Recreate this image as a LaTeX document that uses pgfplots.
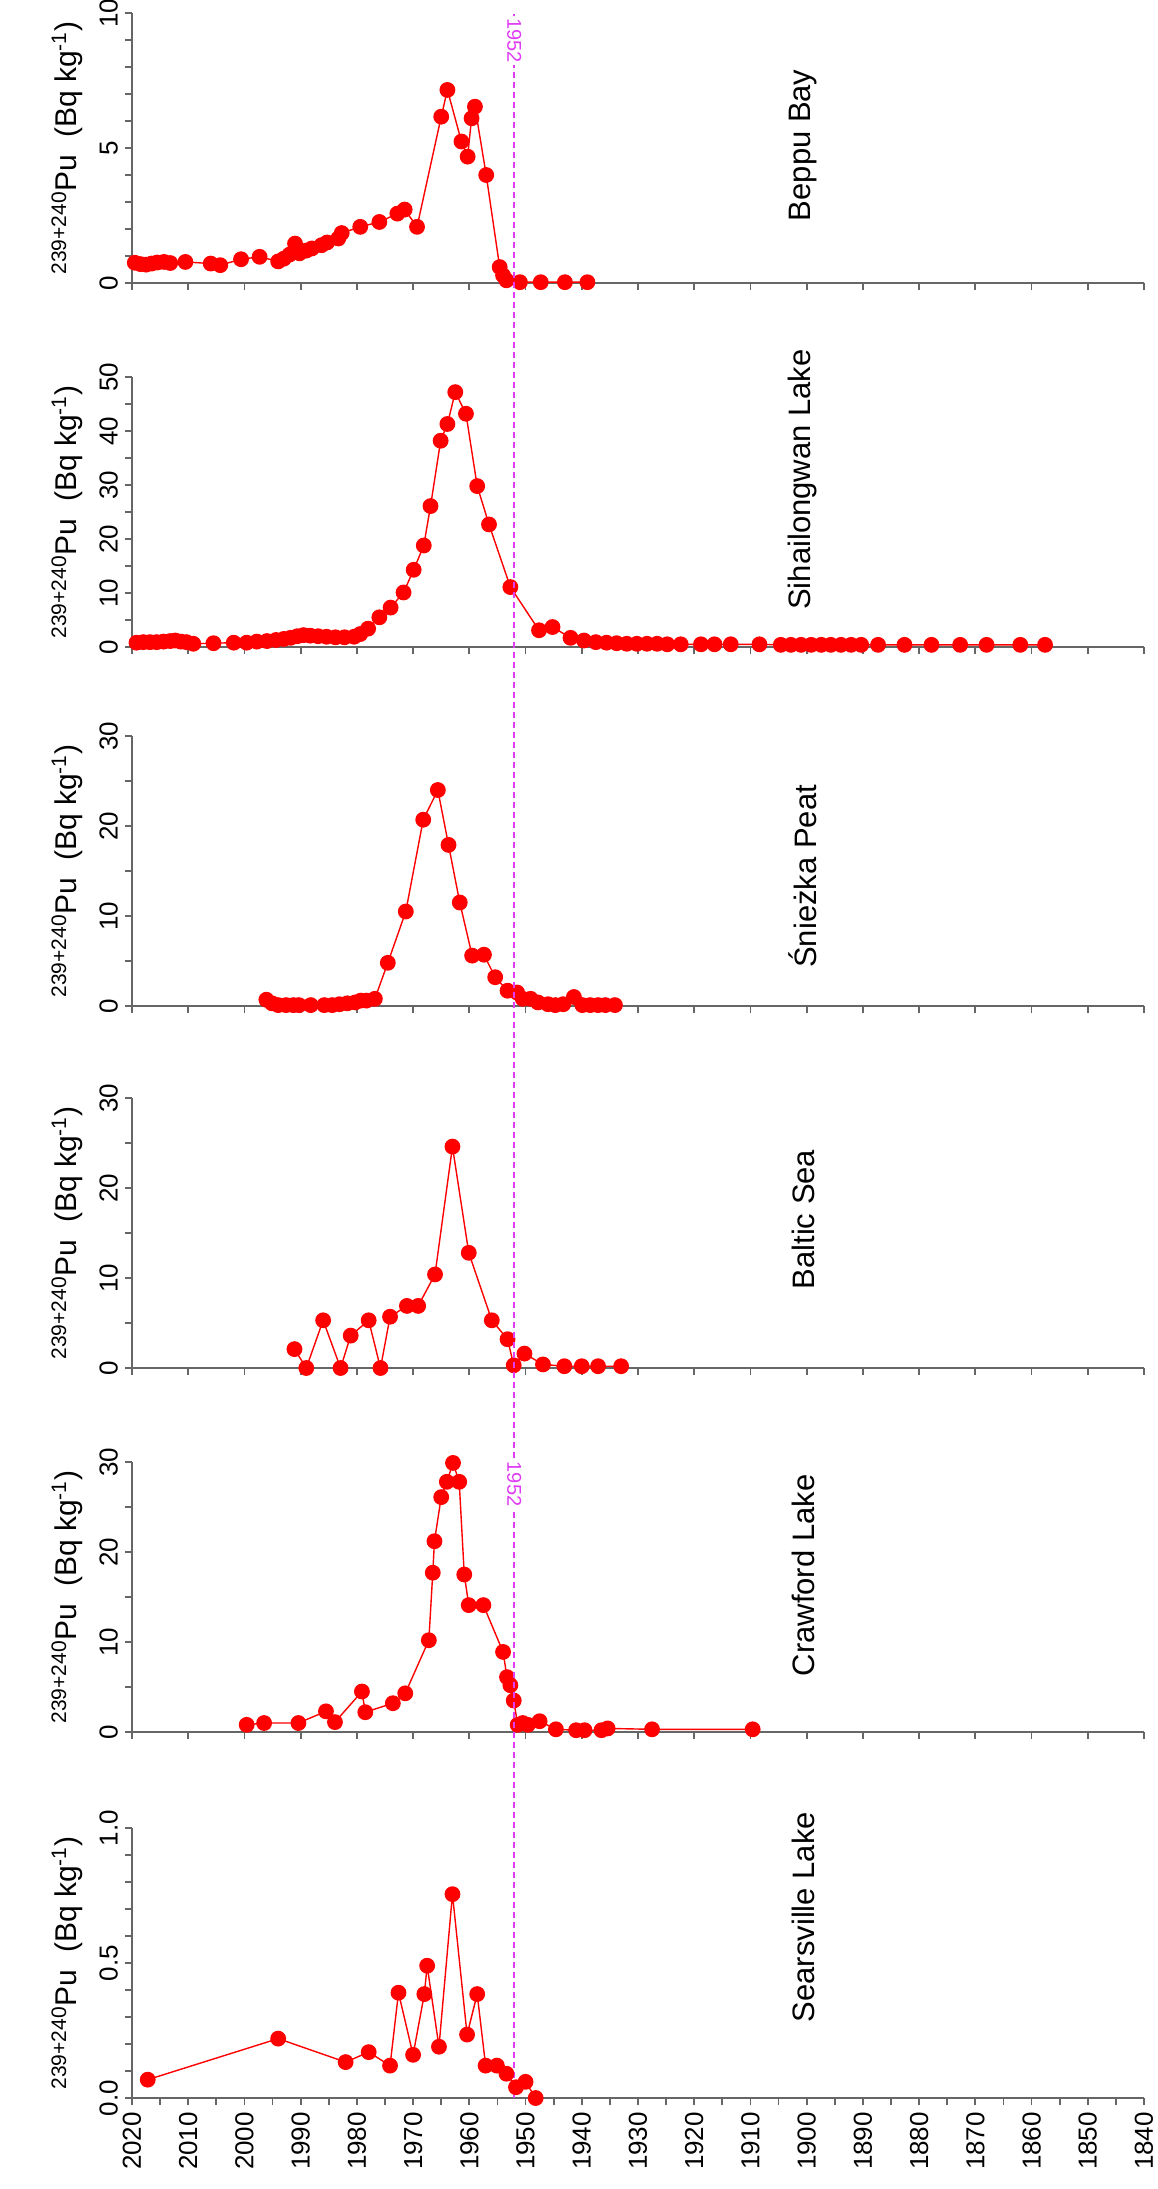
\documentclass[border=0pt]{standalone}
\usepackage{fontspec}
\setmainfont{Liberation Sans}
\usepackage{pgfplots}
\pgfplotsset{compat=1.18}
\definecolor{pured}{RGB}{255,0,0}
\definecolor{mag}{RGB}{225,60,245}
\tikzset{site/.style={rotate=90, font=\fontsize{15.5}{15.5}\selectfont},
 yr/.style={rotate=-90, text=mag, fill=white, inner sep=1pt, font=\fontsize{10}{10}\selectfont}}
\pgfplotsset{
 panel/.style={
  width=506pt, height=135pt, scale only axis,
  x dir=reverse, xmin=1840, xmax=2020, ymin=0,
  axis x line=bottom, axis y line=left,
  axis line style={-, black!60, line width=0.9pt},
  every tick/.style={black!60, line width=0.9pt},
  tick align=outside, major tick length=3.5pt, minor tick length=3.5pt,
  xtick={1840,1850,...,2020},
  clip=false, enlargelimits=false,
  /pgf/number format/assume math mode=true,
  /pgf/number format/1000 sep={},
  tick label style={font=\fontsize{13}{13}\selectfont},
  yticklabel style={rotate=90, anchor=south},
  ylabel={\textsuperscript{239+240}Pu\ \ (Bq kg\textsuperscript{-1})},
  ylabel style={at={(axis description cs:-0.0642,0.5)}, anchor=center, font=\fontsize{15}{15}\selectfont},
 },
 hidex/.style={xticklabels={}},
 ser/.style={color=pured, line width=0.7pt, mark=*, mark size=3.6pt, mark options={fill=pured, draw=pured}},
}
\begin{document}
\begin{tikzpicture}
\useasboundingbox (0,0) rectangle (578.5pt,-1094.5pt);
% Beppu Bay
\begin{axis}[panel, hidex, at={(66pt,-141.5pt)}, anchor=south west, ymax=10,
  ytick={0,5,10}, minor ytick={1,2,3,4,6,7,8,9}]
\addplot[ser] table {
2019.5 0.75
2018.5 0.70
2017.5 0.68
2016.5 0.72
2015.5 0.76
2014.3 0.78
2013.2 0.74
2010.5 0.78
2006.0 0.72
2004.3 0.66
2000.6 0.88
1997.3 0.97
1994.0 0.80
1993.0 0.90
1992.0 1.05
1991.0 1.46
1990.2 1.10
1989.0 1.20
1988.0 1.28
1986.3 1.40
1985.3 1.50
1983.3 1.65
1982.7 1.85
1979.4 2.08
1976.0 2.26
1972.8 2.57
1971.5 2.72
1969.3 2.08
1965.0 6.16
1963.9 7.15
1961.4 5.24
1960.3 4.68
1959.6 6.10
1959.0 6.53
1957.0 4.00
1954.6 0.59
1954.0 0.28
1953.4 0.10
1951.0 0.03
1947.3 0.03
1943.0 0.03
1939.0 0.03
};
\node[site] at (axis description cs:0.663,0.51) {Beppu Bay};
\end{axis}
% Sihailongwan Lake
\begin{axis}[panel, hidex, at={(66pt,-323.5pt)}, anchor=south west, ymax=50,
  ytick={0,10,...,50}, minor ytick={5,15,...,45}]
\addplot[ser] table {
2019.2 0.8
2018.0 0.9
2016.8 0.9
2015.6 0.9
2014.4 1.0
2013.2 1.1
2012.3 1.2
2011.3 1.0
2010.3 0.9
2009.1 0.6
2005.5 0.7
2001.9 0.8
1999.6 0.8
1997.8 1.0
1996.0 1.1
1994.4 1.3
1993.0 1.5
1991.8 1.7
1990.6 2.0
1989.5 2.2
1988.3 2.1
1986.9 2.0
1985.4 1.9
1983.8 1.8
1982.2 1.8
1980.5 1.9
1979.4 2.4
1978.0 3.4
1976.0 5.5
1974.0 7.3
1971.7 10.1
1969.9 14.3
1968.1 18.8
1966.9 26.1
1965.1 38.2
1963.9 41.3
1962.5 47.2
1960.6 43.2
1958.6 29.8
1956.5 22.7
1952.7 11.1
1947.6 3.1
1945.2 3.7
1942.0 1.7
1939.6 1.2
1937.5 0.9
1935.6 0.8
1933.8 0.7
1932.0 0.6
1930.2 0.6
1928.4 0.6
1926.6 0.6
1924.8 0.5
1922.4 0.5
1918.8 0.5
1916.4 0.5
1913.5 0.5
1908.4 0.5
1904.6 0.4
1902.8 0.4
1901.0 0.4
1899.2 0.4
1897.4 0.4
1895.7 0.4
1893.9 0.4
1892.1 0.4
1890.3 0.4
1887.3 0.4
1882.6 0.4
1877.8 0.4
1872.7 0.4
1868.0 0.4
1862.0 0.4
1857.6 0.4
};
\node[site] at (axis description cs:0.663,0.62) {Sihailongwan Lake};
\end{axis}
% Sniezka Peat
\begin{axis}[panel, hidex, at={(66pt,-503pt)}, anchor=south west, ymax=30,
  ytick={0,10,20,30}, minor ytick={5,15,25}]
\addplot[ser] table {
1996.1 0.7
1995.1 0.3
1994.0 0.1
1992.6 0.1
1991.3 0.1
1990.3 0.1
1988.2 0.1
1985.8 0.1
1984.4 0.1
1983.1 0.2
1981.7 0.3
1980.3 0.4
1979.3 0.6
1978.3 0.6
1976.8 0.8
1974.5 4.8
1971.3 10.5
1968.2 20.7
1965.6 24.0
1963.7 17.9
1961.7 11.5
1959.5 5.6
1957.4 5.7
1955.4 3.2
1953.2 1.7
1951.5 1.5
1950.5 0.8
1949.1 0.8
1947.8 0.4
1946.0 0.2
1944.7 0.1
1943.3 0.2
1941.4 1.0
1939.9 0.1
1938.5 0.1
1937.1 0.1
1935.8 0.1
1934.1 0.1
};
\node[site] at (axis description cs:0.663,0.48) {Śnieżka Peat};
\end{axis}
% Baltic Sea
\begin{axis}[panel, hidex, at={(66pt,-684pt)}, anchor=south west, ymax=30,
  ytick={0,10,20,30}, minor ytick={5,15,25}]
\addplot[ser] table {
1991.1 2.1
1989.0 0.0
1986.0 5.3
1982.9 0.0
1981.1 3.6
1977.9 5.3
1975.8 0.0
1974.1 5.7
1971.1 6.9
1969.1 6.9
1966.1 10.4
1963.0 24.6
1960.1 12.8
1956.0 5.3
1953.2 3.2
1952.1 0.3
1950.2 1.6
1946.9 0.4
1943.1 0.2
1940.0 0.2
1937.1 0.2
1933.0 0.2
};
\node[site] at (axis description cs:0.663,0.55) {Baltic Sea};
\end{axis}
% Crawford Lake
\begin{axis}[panel, hidex, at={(66pt,-866pt)}, anchor=south west, ymax=30,
  ytick={0,10,20,30}, minor ytick={5,15,25}]
\addplot[ser] table {
1999.6 0.8
1996.5 1.0
1990.4 1.0
1985.5 2.3
1983.9 1.1
1979.1 4.5
1978.5 2.2
1973.6 3.2
1971.4 4.3
1967.2 10.2
1966.5 17.7
1966.2 21.2
1965.0 26.1
1964.0 27.8
1962.9 29.9
1961.8 27.8
1960.9 17.5
1960.1 14.1
1957.5 14.1
1954.0 8.9
1953.3 6.1
1952.7 5.2
1952.1 3.5
1951.4 0.8
1950.5 1.0
1949.6 0.8
1947.5 1.2
1944.6 0.3
1941.0 0.2
1939.5 0.2
1936.5 0.2
1935.4 0.4
1927.5 0.3
1909.6 0.3
};
\node[site] at (axis description cs:0.663,0.58) {Crawford Lake};
\end{axis}
% Searsville Lake
\begin{axis}[panel, at={(66pt,-1049pt)}, anchor=south west, ymax=1,
  ytick={0,0.5,1}, yticklabels={0.0,0.5,1.0},
  minor ytick={0.1,0.2,0.3,0.4,0.6,0.7,0.8,0.9},
  minor xtick={1845,1855,...,2015},
  xticklabel style={rotate=90, anchor=east}]
\addplot[ser] table {
2017.2 0.068
1994.0 0.22
1982.0 0.133
1977.9 0.17
1974.1 0.12
1972.6 0.39
1970.0 0.16
1968.0 0.385
1967.5 0.49
1965.4 0.19
1963.0 0.755
1960.4 0.235
1958.6 0.385
1957.1 0.12
1955.1 0.12
1953.4 0.09
1951.7 0.04
1950.0 0.06
1948.2 0.0
};
\node[site] at (axis description cs:0.663,0.67) {Searsville Lake};
\draw[mag, line width=0.9pt, dash pattern=on 3pt off 2pt] (axis cs:1952,0) -- (axis cs:1952,7.72);
\node[yr] at (axis cs:1952,7.62) {1952};
\node[yr] at (axis cs:1952,2.274) {1952};
\end{axis}
\end{tikzpicture}
\end{document}
